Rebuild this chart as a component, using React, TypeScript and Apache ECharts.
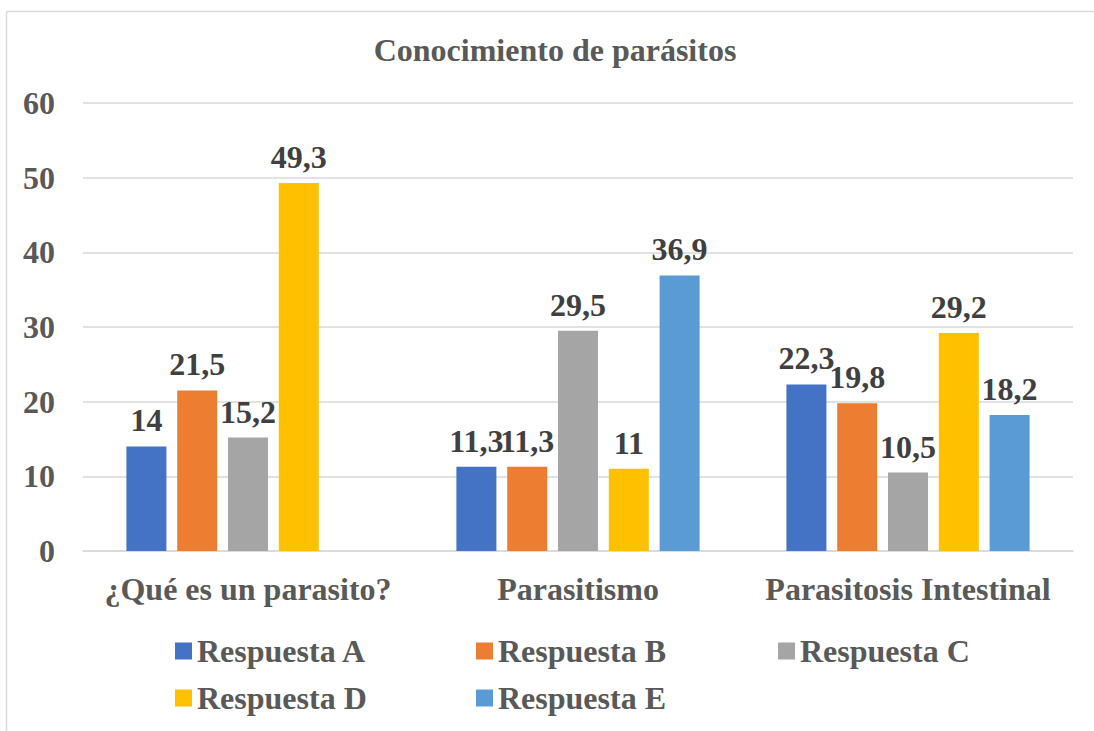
import React, { useEffect, useRef } from "react";
import * as echarts from "echarts";

const categories = ["¿Qué es un parasito?", "Parasitismo", "Parasitosis Intestinal"];
const seriesNames = ["Respuesta A", "Respuesta B", "Respuesta C", "Respuesta D", "Respuesta E"];
const respuestaA = [14, 11.3, 22.3];
const respuestaB = [21.5, 11.3, 19.8];
const respuestaC = [15.2, 29.5, 10.5];
const respuestaD = [49.3, 11, 29.2];
const respuestaE: (number | null)[] = [null, 36.9, 18.2];
const colors = ["#4472C4", "#ED7D31", "#A5A5A5", "#FFC000", "#5B9BD5"];
const yTicks = { min: 0, max: 60, interval: 10 };

const FONT = "'Liberation Serif', 'Times New Roman', serif";
const FS = 32;

// legend grid placement (left, top) for each item
const legendPos = [
  [170, 630],
  [471, 630],
  [773, 630],
  [170, 677],
  [471, 677],
];

export default function App() {
  const ref = useRef<HTMLDivElement>(null);
  useEffect(() => {
    if (!ref.current) return;
    const chart = echarts.init(ref.current, undefined, { renderer: "svg" });
    const values = [respuestaA, respuestaB, respuestaC, respuestaD, respuestaE];
    chart.setOption({
      animation: false,
      backgroundColor: "#ffffff",
      title: {
        text: "Conocimiento de parásitos",
        left: 550,
        top: 29,
        textAlign: "center",
        textStyle: { fontFamily: FONT, fontSize: FS, fontWeight: "bold", color: "#595959" },
      },
      graphic: [
        { type: "line", shape: { x1: 6.5, y1: 11.5, x2: 1094, y2: 11.5 }, style: { stroke: "#D9D9D9", lineWidth: 1.5 } },
        { type: "line", shape: { x1: 6.5, y1: 11.5, x2: 6.5, y2: 731 }, style: { stroke: "#D9D9D9", lineWidth: 1.5 } },
      ],
      legend: seriesNames.map((n, i) => ({
        data: [n],
        left: legendPos[i][0],
        top: legendPos[i][1],
        itemWidth: 17,
        itemHeight: 17,
        icon: "rect",
        textStyle: { fontFamily: FONT, fontSize: FS, fontWeight: "bold", color: "#595959" },
      })),
      grid: { left: 83, right: 21, top: 103, bottom: 180, containLabel: false, outerBoundsMode: "none" },
      xAxis: {
        type: "category",
        data: categories,
        axisLine: { show: true, lineStyle: { color: "#D9D9D9", width: 1.5 } },
        axisTick: { show: false },
        axisLabel: { interval: 0, fontFamily: FONT, fontSize: FS, fontWeight: "bold", color: "#595959", margin: 22 },
      },
      yAxis: {
        type: "value",
        min: yTicks.min,
        max: yTicks.max,
        interval: yTicks.interval,
        axisLine: { show: false },
        axisTick: { show: false },
        splitLine: { lineStyle: { color: "#D9D9D9", width: 1.5 } },
        axisLabel: { fontFamily: FONT, fontSize: FS, fontWeight: "bold", color: "#595959", margin: 28 },
      },
      series: seriesNames.map((name, i) => ({
        name,
        type: "bar",
        data: values[i],
        barWidth: 40,
        barGap: "27%",
        itemStyle: { color: colors[i] },
        label: {
          show: true,
          position: "top",
          distance: 10,
          fontFamily: FONT,
          fontSize: FS,
          fontWeight: "bold",
          color: "#404040",
          formatter: (p: any) => String(p.value).replace(".", ","),
        },
      })),
    });
    return () => chart.dispose();
  }, []);
  return <div ref={ref} style={{ position: "fixed", left: 0, top: 0, width: 1094, height: 731 }} />;
}
